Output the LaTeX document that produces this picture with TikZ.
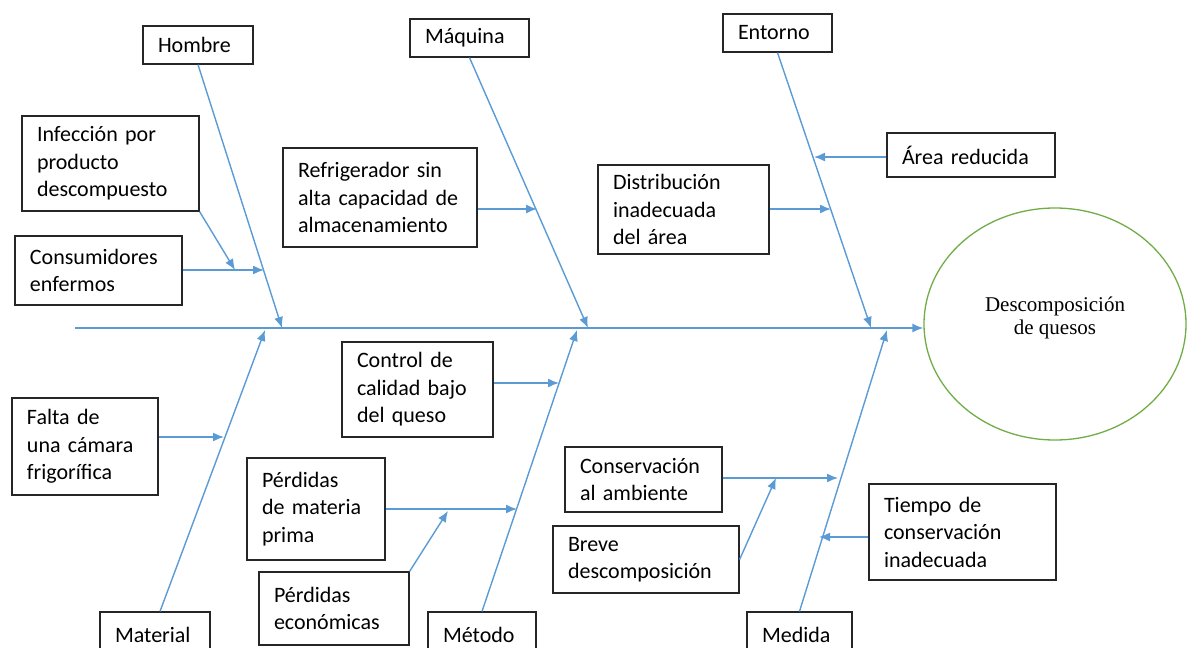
\documentclass[tikz,border=0pt]{standalone}
\usepackage{fontspec}
\setmainfont{Carlito}
\newfontfamily\efectofont{Liberation Serif}
\usepackage{tikz}
\usetikzlibrary{arrows.meta, shapes.geometric}
\definecolor{espina}{HTML}{5B9BD5}
\definecolor{verdeefecto}{HTML}{70AD47}

\begin{document}
\begin{tikzpicture}[x=1pt, y=-1pt,
        causa/.style={draw=black!85, line width=1.2pt, rectangle, align=left, inner xsep=15pt, inner ysep=3pt, font=\fontsize{22}{27.5}\selectfont},
        flecha/.style={draw=espina, line width=1.4pt, -{Latex[length=11pt, width=9pt]}}]
        \useasboundingbox (0,0) rectangle (1187,648);
        \clip (0,0) rectangle (1187,648);

        \node[causa, text width=80pt, minimum height=38pt] at (198,45)   (hombre) {Hombre};
        \node[causa, text width=89pt, minimum height=38pt] at (469.5,38)   (maquina) {Máquina};
        \node[causa, text width=79pt, minimum height=38pt] at (777.5,33)   (entorno) {Entorno};
        \node[causa, text width=80pt, minimum height=46pt] at (155,635)   (material) {Material};
        \node[causa, text width=78pt, minimum height=46pt] at (482,635)   (metodo) {Método};
        \node[causa, text width=75pt, minimum height=46pt] at (799.5,635)   (medida) {Medida};

        \node[ellipse, draw=verdeefecto, line width=1.3pt, minimum width=262pt, minimum height=232pt, align=center, text depth=17pt, font=\efectofont\fontsize{21}{23.5}\selectfont] at (1055,324)   (efecto) {Descomposición\\de quesos};

        \node[causa, text width=147pt, minimum height=95pt] at (110.5,163.5)   (infeccion) {Infección por\\producto\\descompuesto};
        \node[causa, text width=137pt, minimum height=69pt] at (98.5,270.5)   (consumidores) {Consumidores\\enfermos};
        \node[causa, text width=164pt, minimum height=99pt] at (380,197.5)   (refrigerador) {Refrigerador sin\\alta capacidad de\\almacenamiento};
        \node[causa, text width=141pt, minimum height=89pt] at (683.5,209.5)   (distribucion) {Distribución\\inadecuada\\del área};
        \node[causa, text width=138pt, minimum height=44pt] at (971,155)   (area) {Área reducida};
        \node[causa, text width=121pt, minimum height=95pt] at (417.5,389.5)   (control) {Control de\\calidad bajo\\del queso};
        \node[causa, text width=116pt, minimum height=97pt] at (85,446.5)   (falta) {Falta de\\una cámara\\frigorífica};
        \node[causa, text width=108pt, minimum height=102pt] at (316,509)   (perdidasmat) {Pérdidas\\de materia\\prima};
        \node[causa, text width=120pt, minimum height=73pt] at (334,608.5)   (perdidaseco) {Pérdidas\\económicas};
        \node[causa, text width=127pt, minimum height=65pt] at (643.5,479.5)   (conservacion) {Conservación\\al ambiente};
        \node[causa, text width=156pt, minimum height=67pt] at (646,559.5)   (breve) {Breve\\descomposición};
        \node[causa, text width=157pt, minimum height=96pt] at (962.5,532)   (tiempo) {Tiempo de\\conservación\\inadecuada};

        \coordinate (cola) at (75,328);
        \coordinate (h0) at (282,328);
        \coordinate (m0) at (588,328);
        \coordinate (e0) at (871,328);
        \coordinate (a0) at (265,330);
        \coordinate (k0) at (577,330);
        \coordinate (d0) at (887,330);

        \coordinate (h1) at (264,270);
        \coordinate (h2) at (235,270);
        \coordinate (m1) at (537,209);
        \coordinate (e1) at (831,209);
        \coordinate (e2) at (814,157);
        \coordinate (k1) at (559,383);
        \coordinate (a1) at (224,437);
        \coordinate (k2) at (517,509);
        \coordinate (k3) at (448,511);
        \coordinate (d1) at (838,478);
        \coordinate (d2) at (776,478);
        \coordinate (d3) at (819,537);

        \draw [flecha] (cola) -- (cola -| efecto.west);

        \draw [flecha] (hombre.south) -- (h0);
        \draw [flecha] (maquina.south) -- (m0);
        \draw [flecha] (entorno.south) -- (e0);
        \draw [flecha] ([xshift=5pt]material.north) -- (a0);
        \draw [flecha] (metodo.north) -- (k0);
        \draw [flecha] (medida.north) -- (d0);

        \draw [flecha] (consumidores.east |- h1) -- (h1);
        \draw [flecha] (infeccion.south east) -- (h2);
        \draw [flecha] (refrigerador.east |- m1) -- (m1);
        \draw [flecha] (distribucion.east |- e1) -- (e1);
        \draw [flecha] (area.west |- e2) -- (e2);
        \draw [flecha] (control.east |- k1) -- (k1);
        \draw [flecha] (falta.east |- a1) -- (a1);
        \draw [flecha] (perdidasmat.east |- k2) -- (k2);
        \draw [flecha] (perdidaseco.north east) -- (k3);
        \draw [flecha] (conservacion.east |- d1) -- (d1);
        \draw [flecha] (breve.east) -- (d2);
        \draw [flecha] (tiempo.west |- d3) -- (d3);
    \end{tikzpicture}
\end{document}
